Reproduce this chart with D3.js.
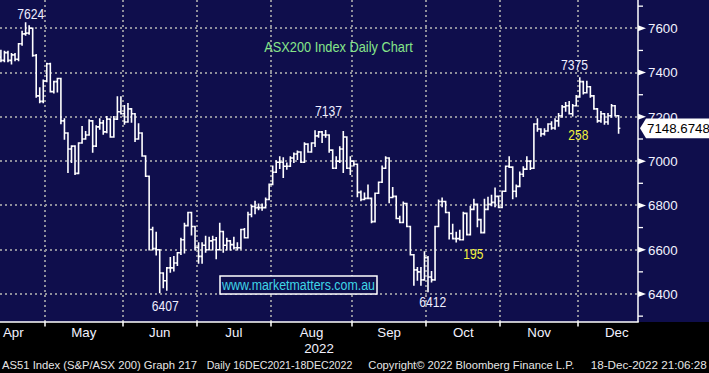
<!DOCTYPE html>
<html><head><meta charset="utf-8">
<script src="https://cdn.jsdelivr.net/npm/d3@7"></script>
<style>html,body{margin:0;padding:0;background:#000;overflow:hidden}svg{display:block}</style>
</head><body><svg id="c" width="709" height="373"></svg>
<script>
// ---- data (ASX200 daily OHLC, 8 Apr 2022 – 16 Dec 2022) ----
const opens = [
7470,7455,7490,7455,7480,7460,7530,7575,7578,7600,7477,7295,7270,
7362,7440,7314,7359,7373,7182,7127,7055,7068,6945,7082,7100,7118,7182,7068,7155,7173,7132,7190,7109,7190,7223,
7214,7177,7236,7214,7100,7127,7023,6932,6691,6605,6600,6495,6460,6518,6518,6540,6586,6645,6709,6768,6705,
6610,6570,6620,6600,6640,6645,6600,6682,6620,6640,6623,6609,6609,6691,6654,6759,6795,6790,6790,6790,6827,
6895,6950,6995,6995,6977,6977,7014,7032,7041,6995,7077,7041,7082,7114,7132,7118,7118,7050,6968,7000,7055,7109,6968,
7000,6986,6859,6827,6832,6832,6727,6855,6905,6968,7014,6836,6841,6741,6723,6809,6705,6577,6509,6500,6464,
6564,6477,6464,6705,6818,6818,6768,6673,6650,6650,6645,6764,6668,6782,6805,6736,6677,6782,6805,6814,6841,
6791,6864,6977,6973,6864,6886,6941,6964,7000,6968,7168,7145,7123,7136,7168,7150,7182,7205,7245,7250,7214,7250,
7290,7359,7309,7336,7295,7236,7182,7214,7177,7205,7250,7205];
const highs = [
7500,7495,7495,7485,7485,7530,7585,7624,7610,7600,7480,7330,7365,
7441,7441,7360,7373,7373,7190,7127,7068,7068,7082,7155,7132,7186,7182,7159,7190,7182,7200,7190,7200,7290,7290,
7250,7259,7236,7214,7168,7127,7023,6932,6700,6677,6600,6495,6518,6563,6568,6586,6650,6718,6768,6768,6705,
6630,6630,6660,6655,6660,6654,6718,6682,6650,6640,6655,6630,6691,6695,6768,6800,6818,6805,6805,6832,6895,
6977,7000,7018,7014,6990,7018,7036,7045,7041,7082,7077,7082,7136,7132,7132,7137,7118,7050,7018,7064,7132,7109,7018,
7000,6986,6864,6855,6891,6832,6855,6905,6977,7018,7014,6880,6841,6750,6814,6809,6705,6577,6518,6518,6590,
6568,6500,6705,6823,6832,6818,6768,6714,6677,6686,6768,6764,6795,6827,6805,6736,6827,6836,6845,6877,6841,
6864,6977,7018,6973,6891,6950,6973,7018,7000,7168,7190,7145,7145,7168,7177,7190,7214,7250,7264,7268,7255,7295,
7375,7359,7359,7336,7295,7236,7223,7214,7214,7255,7250,7205];
const lows = [
7450,7450,7450,7440,7455,7455,7525,7570,7575,7475,7290,7265,7265,
7360,7314,7309,7314,7170,7100,6950,6995,6941,6945,7082,7100,7118,7041,7068,7145,7123,7130,7109,7109,7190,7214,
7168,7177,7177,7090,7100,7023,6932,6600,6600,6577,6407,6430,6418,6500,6505,6530,6580,6586,6709,6668,6600,
6540,6540,6590,6600,6600,6560,6600,6590,6600,6600,6605,6600,6605,6654,6654,6750,6764,6782,6780,6790,6827,
6895,6950,6968,6927,6965,6977,6995,7009,6995,6995,7041,7041,7068,7109,7086,7109,7041,6968,6968,6995,6950,6968,6941,
6980,6841,6823,6827,6832,6723,6727,6855,6905,6968,6814,6836,6741,6723,6723,6705,6577,6441,6464,6441,6464,
6412,6455,6464,6705,6795,6768,6650,6650,6636,6645,6645,6668,6668,6782,6705,6677,6677,6782,6800,6795,6791,
6791,6864,6973,6832,6841,6886,6932,6964,6964,6968,7136,7114,7120,7136,7145,7145,7159,7200,7227,7214,7205,7250,
7290,7305,7309,7290,7236,7177,7177,7168,7168,7200,7205,7127];
const closes = [
7455,7490,7455,7480,7460,7530,7575,7578,7600,7477,7295,7270,7362,
7440,7314,7359,7373,7182,7127,7055,7068,6945,7082,7100,7118,7182,7068,7155,7173,7132,7190,7109,7190,7223,7214,
7177,7236,7214,7100,7127,7023,6932,6691,6605,6600,6495,6460,6518,6518,6540,6586,6645,6709,6768,6705,6610,
6570,6620,6600,6640,6645,6600,6682,6620,6640,6623,6609,6609,6691,6654,6759,6795,6790,6790,6790,6827,6895,
6950,6995,6995,6977,6977,7014,7032,7041,6995,7077,7041,7082,7114,7132,7118,7118,7050,6968,7000,7055,7109,6968,7000,
6986,6859,6827,6832,6832,6727,6855,6905,6968,7014,6836,6841,6741,6723,6809,6705,6577,6509,6500,6464,6564,
6477,6464,6705,6818,6818,6768,6673,6650,6650,6645,6764,6668,6782,6805,6736,6677,6782,6805,6814,6841,6791,
6864,6977,6973,6864,6886,6941,6964,7000,6968,7168,7145,7123,7136,7168,7150,7182,7205,7245,7250,7214,7250,7290,
7359,7309,7336,7295,7236,7182,7214,7177,7205,7250,7205,7148.6748];

// month axis (trading-day indices)
const monthLabels = ["Apr","May","Jun","Jul","Aug","Sep","Oct","Nov","Dec"];
const monthStarts = [-5,13,35,56,77,100,121,142,164];
const monthEnds   = [13,35,56,77,100,121,142,164,186];
const yearLabel = "2022";
const yTicksMajor = [6400,6600,6800,7000,7200,7400,7600];
const yTicksMinor = [6300,6500,6700,6900,7100,7300,7500,7700];
const lastPrice = 7148.6748;
const title = "ASX200 Index Daily Chart";
const peakLabels = ["7624","7137","7375","6407","6412"];
const moveLabels = ["258","195"];
const website = "www.marketmatters.com.au";
const footer = ["AS51 Index (S&P/ASX 200) Graph 217","Daily 16DEC2021-18DEC2022","Copyright\u00a9 2022 Bloomberg Finance L.P.","18-Dec-2022 21:06:28"];

// ---- layout ----
const W = 709, H = 373, plotR = 638, plotB = 322;
const svg = d3.select("#c");
const x = d3.scaleLinear().domain([0, 175]).range([0.9, 618.6]);
const y = d3.scaleLinear().domain([6400, 7600]).range([294, 28.3]);
const step = x(1) - x(0);

svg.append("rect").attr("width", W).attr("height", H).attr("fill", "#000");
svg.append("rect").attr("width", W).attr("height", plotB).attr("fill", "#0f0e4c");

// grid
const grid = svg.append("g").attr("stroke", "#8e8e9a").attr("stroke-width", 2).attr("stroke-dasharray", "2,3");
grid.selectAll(".h").data(yTicksMajor).join("line")
  .attr("x1", 0).attr("x2", plotR).attr("y1", d => Math.round(y(d))).attr("y2", d => Math.round(y(d)));
grid.selectAll(".v").data(monthStarts.slice(1)).join("line")
  .attr("x1", d => Math.round(x(d - 0.5))).attr("x2", d => Math.round(x(d - 0.5)))
  .attr("y1", 0).attr("y2", plotB);

// bars
const gBars = svg.append("g").attr("stroke", "#fff").attr("stroke-width", 1.6).attr("fill", "none");
const hw = step / 2;
gBars.selectAll("path").data(closes.map((c, i) => i)).join("path")
  .attr("d", i => {
    const cx = x(i);
    const top = y(Math.max(highs[i], opens[i], closes[i]));
    const bot = y(Math.min(lows[i], opens[i], closes[i]));
    return `M${cx},${top - 0.8}V${bot + 0.8}M${cx - hw},${y(opens[i])}H${cx}M${cx},${y(closes[i])}H${cx + hw}`;
  });

// axes
svg.append("line").attr("x1", plotR).attr("x2", plotR).attr("y1", 0).attr("y2", plotB)
  .attr("stroke", "#fff").attr("stroke-width", 1.5);
svg.append("line").attr("x1", 0).attr("x2", plotR + 0.75).attr("y1", plotB).attr("y2", plotB)
  .attr("stroke", "#fff").attr("stroke-width", 1.5);
svg.append("g").selectAll("line").data(yTicksMinor).join("line")
  .attr("x1", plotR).attr("x2", plotR + 5).attr("y1", d => y(d)).attr("y2", d => y(d))
  .attr("stroke", "#fff").attr("stroke-width", 1.3);
svg.append("g").selectAll("path").data(yTicksMajor).join("path")
  .attr("d", d => `M${plotR},${y(d) - 3}L${plotR + 8},${y(d)}L${plotR},${y(d) + 3}Z`).attr("fill", "#fff");
svg.append("g").selectAll("text").data(yTicksMajor).join("text")
  .attr("x", 648).attr("y", d => y(d) + 4.8).text(d => d)
  .attr("fill", "#f2f2ff").attr("font-family", "Liberation Sans, Arial, sans-serif").attr("font-size", 13.3);

// bottom ticks + month labels
svg.append("g").selectAll("line").data(monthStarts.slice(1)).join("line")
  .attr("x1", d => Math.round(x(d - 0.5))).attr("x2", d => Math.round(x(d - 0.5)))
  .attr("y1", plotB).attr("y2", plotB + 4.5).attr("stroke", "#fff").attr("stroke-width", 1.5);
svg.append("g").selectAll("text").data(monthLabels).join("text")
  .attr("x", (d, k) => x((monthStarts[k] + monthEnds[k]) / 2 - 0.5)).attr("y", 337)
  .attr("text-anchor", "middle").text(d => d)
  .attr("fill", "#f2f2ff").attr("font-family", "Liberation Sans, Arial, sans-serif").attr("font-size", 13.3);
svg.append("text").attr("x", 319).attr("y", 352.5).attr("text-anchor", "middle").text(yearLabel)
  .attr("fill", "#f2f2ff").attr("font-family", "Liberation Sans, Arial, sans-serif").attr("font-size", 13.3);

// annotations
function ann(txt, left, base, width, color, size) {
  svg.append("text").attr("x", left).attr("y", base).text(txt)
    .attr("fill", color).attr("font-family", "Liberation Sans, Arial, sans-serif").attr("font-size", size)
    .attr("textLength", width).attr("lengthAdjust", "spacingAndGlyphs");
}
ann(title, 264.3, 52.3, 148.4, "#86e68a", 15);
const peakPos = [[17.3, 19.3], [315, 115.5], [561, 69.5], [151.7, 311], [419.3, 306.7]];
peakLabels.forEach((t, k) => ann(t, peakPos[k][0], peakPos[k][1], 27, "#eeeeff", 15));
const movePos = [[568.3, 140], [463.3, 259.3]];
moveLabels.forEach((t, k) => ann(t, movePos[k][0], movePos[k][1], 20, "#f2f23c", 15));

// website box
svg.append("rect").attr("x", 220).attr("y", 276).attr("width", 157).attr("height", 18)
  .attr("fill", "#0f0e4c").attr("stroke", "#fff").attr("stroke-width", 1.5);
ann(website, 222, 290, 153, "#3fd6e6", 14);

// last price flag
const ly = y(lastPrice);
svg.append("path").attr("d", `M640,${ly}L646,${ly - 9.8}L709,${ly - 9.8}L709,${ly + 10}L646,${ly + 10}Z`).attr("fill", "#fff");
svg.append("text").attr("x", 647).attr("y", ly + 4.8).text(lastPrice.toFixed(4))
  .attr("fill", "#000").attr("font-family", "Liberation Sans, Arial, sans-serif").attr("font-size", 13.3);

// footer
const footX = [2, 206.7, 368.3, 590.7], footW = [195, 145.6, 206, 116];
footer.forEach((t, k) => svg.append("text").attr("x", footX[k]).attr("y", 369).text(t)
  .attr("fill", "#e6e6e6").attr("font-family", "Liberation Sans, Arial, sans-serif").attr("font-size", 11.6)
  .attr("textLength", footW[k]).attr("lengthAdjust", "spacingAndGlyphs"));
</script></body></html>
